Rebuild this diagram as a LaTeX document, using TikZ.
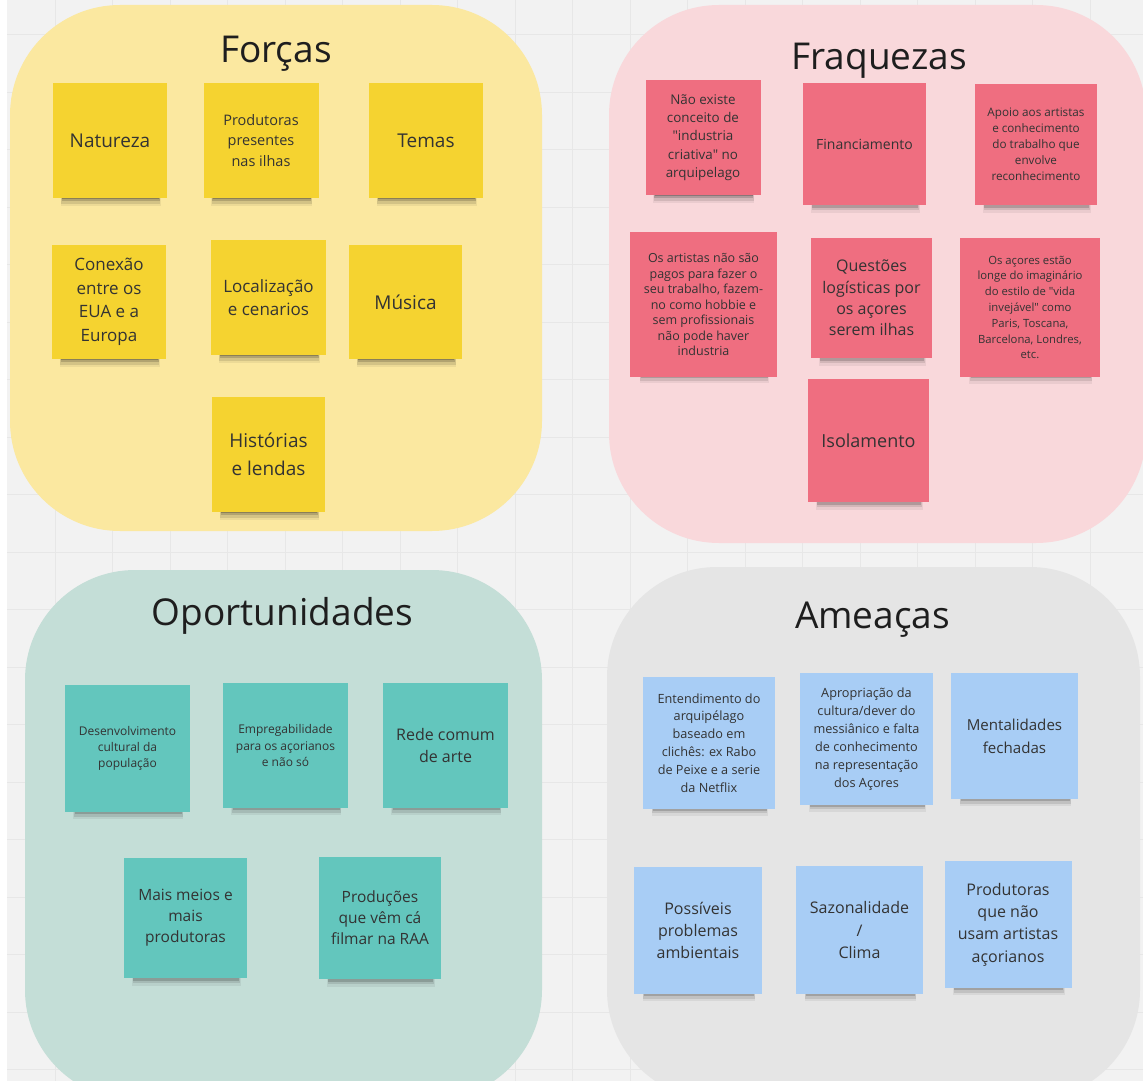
\documentclass[tikz,border=0pt]{standalone}
\usepackage{fontspec}
\setmainfont{Open Sans}
\usetikzlibrary{shadows}
\definecolor{board}{HTML}{F2F2F2}
\definecolor{gridline}{HTML}{E7E7E7}
\definecolor{ink}{HTML}{333333}
\definecolor{heading}{HTML}{1E1E1E}
\definecolor{yellowzone}{HTML}{FBE8A0}
\definecolor{pinkzone}{HTML}{F9D8DB}
\definecolor{greenzone}{HTML}{C4DED7}
\definecolor{grayzone}{HTML}{E5E5E5}
\definecolor{yellownote}{HTML}{F5D330}
\definecolor{pinknote}{HTML}{EF6E80}
\definecolor{greennote}{HTML}{63C6BD}
\definecolor{bluenote}{HTML}{A8CDF5}
\newcommand\nsize[2]{\fontsize{#1}{#2}\selectfont}

\begin{document}
\begin{tikzpicture}[
    x=1pt, y=-1pt,
    zone/.style={rounded corners=110pt},
    title/.style={anchor=base, text=heading, font=\nsize{37}{44}},
    sticky/.style 2 args={minimum width=#1pt, minimum height=#2pt,
        inner sep=0pt, align=center, text=ink,
        general shadow={fill=black, opacity=.06, shadow xshift=1pt,
            shadow yshift=-17pt, shadow scale=.88},
        general shadow={fill=black, opacity=.10, shadow xshift=1pt,
            shadow yshift=-15pt, shadow scale=.87},
        general shadow={fill=black, opacity=.16, shadow xshift=1pt,
            shadow yshift=-13pt, shadow scale=.86},
        general shadow={fill=black, opacity=.22, shadow xshift=1pt,
            shadow yshift=-11pt, shadow scale=.85}},
    forca/.style={fill=yellownote},
    fraqueza/.style={fill=pinknote},
    oportunidade/.style={fill=greennote},
    ameaca/.style={fill=bluenote}
]
    \useasboundingbox (0,0) rectangle (1143,1081);
    \fill[board] (0,0) rectangle (1143,1081);
    \foreach \gx in {0,...,19}
        \draw[gridline, line width=.6pt] (55+57.5*\gx-57.5,0) -- (55+57.5*\gx-57.5,1081);
    \foreach \gy in {0,...,18}
        \draw[gridline, line width=.6pt] (0,34.5+57.5*\gy) -- (1143,34.5+57.5*\gy);
    \fill[white] (0,0) rectangle (7,1081);

    \fill[zone, yellowzone] (10,5) rectangle (542,531);
    \fill[zone, pinkzone] (609,5) rectangle (1146,543);
    \fill[zone, greenzone] (25,570) rectangle (542,1100);
    \fill[zone, grayzone] (607,567) rectangle (1140,1100);

    \node[title] (forcas) at (276,63) {Forças};
    \node[title] (fraquezas) at (879,70) {Fraquezas};
    \node[title] (oportunidades) at (282.5,625) {Oportunidades};
    \node[title] (ameacas) at (872.5,628) {Ameaças};

    \node[sticky={114}{115}, forca, font=\nsize{19}{26}] (natureza) at (110,140.5) {Natureza};
    \node[sticky={115}{115}, forca, font=\nsize{14.5}{20.3}] (produtoras) at (261,140.5) {Produtoras\\presentes\\nas ilhas};
    \node[sticky={114}{115}, forca, font=\nsize{19}{26}] (temas) at (426,140.5) {Temas};
    \node[sticky={114}{114}, forca, font=\nsize{17}{23.6}] (conexao) at (109,302) {Conexão\\entre os\\EUA e a\\Europa};
    \node[sticky={115}{115}, forca, font=\nsize{17}{23.4}] (localizacao) at (268.5,297.5) {Localização\\e cenarios};
    \node[sticky={113}{114}, forca, font=\nsize{19}{26}] (musica) at (405.5,302) {Música};
    \node[sticky={113}{115}, forca, font=\nsize{19}{28}] (historias) at (268.5,454.5) {Histórias\\e lendas};

    \node[sticky={115}{115}, fraqueza, font=\nsize{13.4}{18.3}] (naoexiste) at (703,137.5) {Não existe\\conceito de\\\textquotedbl industria\\criativa\textquotedbl{} no\\arquipelago};
    \node[sticky={123}{122}, fraqueza, font=\nsize{14}{19}] (financiamento) at (864.5,144) {Financiamento};
    \node[sticky={122}{121}, fraqueza, font=\nsize{11.7}{16}] (apoio) at (1036,144.5) {Apoio aos artistas\\e conhecimento\\do trabalho que\\envolve\\reconhecimento};
    \node[sticky={147}{145}, fraqueza, font=\nsize{12.5}{15.5}] (artistas) at (703.5,304.5) {Os artistas não são\\pagos para fazer o\\seu trabalho, fazem-\\no como hobbie e\\sem profissionais\\não pode haver\\industria};
    \node[sticky={121}{120}, fraqueza, font=\nsize{16}{21.4}] (questoes) at (871.5,298) {Questões\\logísticas por\\os açores\\serem ilhas};
    \node[sticky={140}{139}, fraqueza, font=\nsize{11.3}{15.8}] (acores) at (1030,307.5) {Os açores estão\\longe do imaginário\\do estilo de \textquotedbl vida\\invejável\textquotedbl{} como\\Paris, Toscana,\\Barcelona, Londres,\\etc.};
    \node[sticky={121}{123}, fraqueza, font=\nsize{18}{24}] (isolamento) at (868.5,440.5) {Isolamento};

    \node[sticky={125}{127}, oportunidade, font=\nsize{12}{16.3}] (desenvolvimento) at (127.5,748.5) {Desenvolvimento\\cultural da\\população};
    \node[sticky={125}{125}, oportunidade, font=\nsize{12}{16.3}] (empregabilidade) at (285.5,745.5) {Empregabilidade\\para os açorianos\\e não só};
    \node[sticky={125}{125}, oportunidade, font=\nsize{16}{22.3}] (rede) at (445.5,745.5) {Rede comum\\de arte};
    \node[sticky={123}{120}, oportunidade, font=\nsize{15.5}{21}] (maismeios) at (185.5,918) {Mais meios e\\mais\\produtoras};
    \node[sticky={122}{122}, oportunidade, font=\nsize{15.5}{21}] (producoes) at (380,918) {Produções\\que vêm cá\\filmar na RAA};

    \node[sticky={132}{132}, ameaca, font=\nsize{12.7}{17.9}] (entendimento) at (709,743) {Entendimento do\\arquipélago\\baseado em\\clichês: ex Rabo\\de Peixe e a serie\\da Netflix};
    \node[sticky={133}{132}, ameaca, font=\nsize{12.7}{17.9}] (apropriacao) at (866.5,739) {Apropriação da\\cultura/dever do\\messiânico e falta\\de conhecimento\\na representação\\dos Açores};
    \node[sticky={127}{126}, ameaca, font=\nsize{15.1}{22.7}] (mentalidades) at (1014.5,736) {Mentalidades\\fechadas};
    \node[sticky={128}{127}, ameaca, font=\nsize{16}{22.4}] (possiveis) at (698,930.5) {Possíveis\\problemas\\ambientais};
    \node[sticky={127}{128}, ameaca, font=\nsize{16}{22.4}] (sazonalidade) at (859.5,930) {Sazonalidade\\/\\Clima};
    \node[sticky={127}{127}, ameaca, font=\nsize{16}{22.4}] (produtorasnao) at (1008,924.5) {Produtoras\\que não\\usam artistas\\açorianos};
\end{tikzpicture}
\end{document}
